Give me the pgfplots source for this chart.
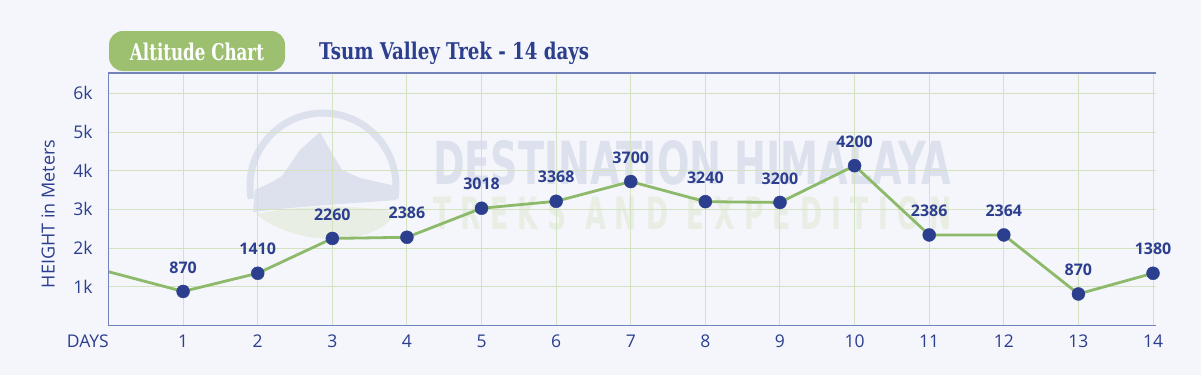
\documentclass[border=0pt]{standalone}
\usepackage{pgfplots}
\pgfplotsset{compat=1.18}
\usepackage{pgfplotstable}
\usepackage{fontspec}
\setmainfont{Open Sans}
\newfontfamily\slab{DejaVu Serif Condensed}
\newfontfamily\wm{DejaVu Sans Condensed}
\definecolor{bg}{HTML}{F4F6FB}
\definecolor{navy}{HTML}{2C3E8E}
\definecolor{linegreen}{HTML}{8DB96A}
\definecolor{gridgreen}{HTML}{D4E3BF}
\definecolor{axisblue}{HTML}{7282BA}
\definecolor{boxgreen}{HTML}{9CC070}
\definecolor{wmgray}{HTML}{DDE1ED}
\definecolor{wmgreen}{HTML}{E8EEE3}

\pgfplotstableread{
day h label
0 1390 0
1 880 870
2 1350 1410
3 2250 2260
4 2280 2386
5 3030 3018
6 3210 3368
7 3720 3700
8 3200 3240
9 3180 3200
10 4130 4200
11 2340 2386
12 2340 2364
13 815 870
14 1350 1380
}\alttable

\begin{document}
\begin{tikzpicture}
\begin{scope}[x=1pt,y=-1pt]
\fill[bg] (0,0) rectangle (1201,375);
\useasboundingbox (0,0) rectangle (1201,375);
% watermark logo
\fill[wmgreen] (256,214) .. controls (300,205) and (360,205) .. (396,212) .. controls (380,245) and (300,250) .. (256,214) -- cycle;
\draw[wmgray, line width=7pt] (251.1,198.7) arc (170:370:73);
\fill[wmgray] (253,212) -- (255,190) -- (272,182) -- (282,176) -- (300,150) -- (320,132) -- (330,150) -- (342,170) -- (360,178) -- (396,186) -- (396,200) .. controls (360,203) and (300,206) .. (253,212) -- cycle;
\node[anchor=south west, inner sep=0pt, text=wmgray] at (433,186) {\resizebox{518pt}{44pt}{\wm\bfseries DESTINATION HIMALAYA}};
\node[anchor=south west, inner sep=0pt, text=wmgreen] at (433,230) {\resizebox{518pt}{33pt}{\wm\bfseries T\ R\ E\ K\ S\ \ A\ N\ D\ \ E\ X\ P\ E\ D\ I\ T\ I\ O\ N}};
% title box
\fill[boxgreen, rounded corners=14pt] (109,31) rectangle (285,71);
\node[anchor=base, inner sep=0pt, text=white] at (197,60.5) {\resizebox{134pt}{17.5pt}{\slab\bfseries Altitude Chart}};
\node[anchor=base west, inner sep=0pt, text=navy] at (319,59.5) {\resizebox{270pt}{17.5pt}{\slab\bfseries Tsum Valley Trek - 14 days}};
% y label and DAYS
\node[rotate=90, text=navy, font=\fontsize{18}{21}\selectfont] at (48,214) {HEIGHT in Meters};
\node[anchor=east, inner sep=0pt, text=navy, font=\fontsize{17.5}{20}\selectfont] at (109,341) {DAYS};
\end{scope}
\begin{axis}[
  at={(108.5pt,-325.5pt)}, anchor=south west,
  scale only axis, width=1047.5pt, height=252.5pt,
  xmin=0, xmax=14.04, ymin=0, ymax=6525,
  axis line style={draw=none},
  xtick={1,...,14}, ytick={1000,2000,3000,4000,5000,6000},
  yticklabels={1k,2k,3k,4k,5k,6k},
  grid=major, major grid style={gridgreen, line width=1pt},
  major tick length=0pt,
  tick label style={font=\fontsize{17.5}{20}\selectfont, text=navy},
  xticklabel style={anchor=center, yshift=-15.5pt},
  yticklabel style={anchor=east, xshift=-12.5pt},
  /pgf/number format/assume math mode=true,
  clip=false,
]
\addplot[linegreen, line width=2.8pt, mark=none] table[x=day,y=h]{\alttable};
\addplot[only marks, mark=*, mark size=6.5pt, mark options={fill=navy, draw=navy},
  skip coords between index={0}{1},
  nodes near coords, point meta=explicit symbolic,
  nodes near coords style={anchor=center, yshift=24pt, text=navy, font=\fontsize{16}{19}\selectfont\bfseries}]
  table[x=day,y=h,meta=label]{\alttable};
\draw[axisblue, line width=1.5pt] (rel axis cs:1,1) -- (rel axis cs:0,1) -- (rel axis cs:0,0) -- (rel axis cs:1,0);
\end{axis}
\end{tikzpicture}
\end{document}
